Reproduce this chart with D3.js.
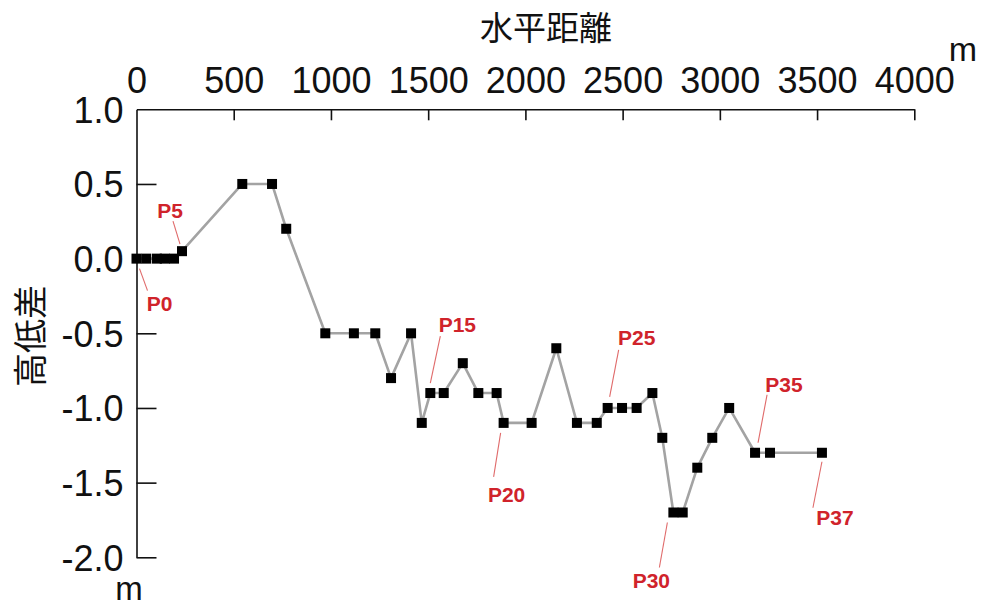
<!DOCTYPE html>
<html>
<head>
<meta charset="utf-8">
<script src="https://cdn.jsdelivr.net/npm/d3@7"></script>
<style>
  html, body { margin: 0; padding: 0; background: #ffffff; }
  svg { display: block; }
  .tick text { font-family: "Liberation Sans", Arial, sans-serif; }
</style>
</head>
<body>
<svg id="chart" width="982" height="608"></svg>
<script>
// ---- data ----
const pointNames = d3.range(38).map(i => "P" + i);
const distance = [0, 50, 105, 145, 193, 234, 544, 697, 770, 971, 1118, 1228, 1309, 1412, 1467, 1511, 1580, 1678, 1758, 1852, 1888,
                  2032, 2159, 2265, 2367, 2423, 2497, 2572, 2653, 2704, 2761, 2809, 2884, 2961, 3048, 3181, 3258, 3525];
const heightDiff = [0, 0, 0, 0, 0, 0.05, 0.5, 0.5, 0.2, -0.5, -0.5, -0.5, -0.8, -0.5, -1.1, -0.9, -0.9, -0.7, -0.9, -0.9, -1.1,
                    -1.1, -0.6, -1.1, -1.1, -1.0, -1.0, -1.0, -0.9, -1.2, -1.7, -1.7, -1.4, -1.2, -1.0, -1.3, -1.3, -1.3];
const xTicks = [0, 500, 1000, 1500, 2000, 2500, 3000, 3500, 4000];
const yTicks = [1.0, 0.5, 0.0, -0.5, -1.0, -1.5, -2.0];
const labelledPoints = [0, 5, 15, 20, 25, 30, 35, 37];
const xTitle = "水平距離";
const yTitle = "高低差";
const unitLabel = "m";

// label placement (pixel offsets from the marker): leader start, leader end, text anchor
const labelLayout = {
  0:  { s: [3, 10],   e: [11, 32],  t: [23, 52] },
  5:  { s: [-2, -7],  e: [-9, -30], t: [-12, -33] },
  15: { s: [0, -10],  e: [10, -57], t: [27, -61] },
  20: { s: [-3, 10],  e: [-10, 54], t: [3, 79] },
  25: { s: [2, -11],  e: [11, -58], t: [29, -63] },
  30: { s: [-6, 10],  e: [-14, 55], t: [-22, 75] },
  35: { s: [3, -10],  e: [12, -58], t: [29, -61] },
  37: { s: [0, 9],    e: [-9, 55],  t: [13, 72] }
};

const data = distance.map((d, i) => ({ name: pointNames[i], x: d, y: heightDiff[i], i }));

// ---- layout ----
const svg = d3.select("#chart");
const x = d3.scaleLinear().domain([0, 4000]).range([136.5, 914.3]);
const y = d3.scaleLinear().domain([-2, 1]).range([557.3, 109.3]);
const fontLatin = '"Liberation Sans", Arial, sans-serif';
const fontCJK = '"Noto Sans CJK JP", "Noto Sans CJK TC", sans-serif';

// top x axis
const xAxis = svg.append("g")
  .attr("transform", `translate(0,${y(1)})`)
  .call(d3.axisTop(x).tickValues(xTicks).tickFormat(d => String(d))
        .tickSizeInner(-11).tickSizeOuter(0).tickPadding(16));
xAxis.select(".domain").attr("stroke", "#111").attr("stroke-width", 1.6);
xAxis.selectAll(".tick line").attr("stroke", "#111").attr("stroke-width", 1.6)
  .filter(d => d === 0).remove();
xAxis.selectAll(".tick text").attr("font-size", 36).attr("fill", "#111")
  .attr("font-family", fontLatin).attr("dy", "0");

// left y axis
const yAxis = svg.append("g")
  .attr("transform", `translate(${x(0)},0)`)
  .call(d3.axisLeft(y).tickValues(yTicks).tickFormat(d => d.toFixed(1))
        .tickSizeInner(-20).tickSizeOuter(0).tickPadding(13));
yAxis.select(".domain").attr("stroke", "#111").attr("stroke-width", 1.6);
yAxis.selectAll(".tick line").attr("stroke", "#111").attr("stroke-width", 1.6)
  .filter(d => d === 1).remove();
yAxis.selectAll(".tick text").attr("font-size", 36).attr("fill", "#111")
  .attr("font-family", fontLatin).attr("dy", "0.36em");

// titles
svg.append("text").attr("x", 546).attr("y", 40).attr("text-anchor", "middle")
  .attr("font-family", fontCJK).attr("font-size", 33).attr("fill", "#111").text(xTitle);
svg.append("text").attr("transform", "translate(43,336) rotate(-90)").attr("text-anchor", "middle")
  .attr("font-family", fontCJK).attr("font-size", 34).attr("fill", "#111").text(yTitle);
svg.append("text").attr("x", 963).attr("y", 61).attr("text-anchor", "middle")
  .attr("font-family", fontLatin).attr("font-size", 34).attr("fill", "#111").text(unitLabel);
svg.append("text").attr("x", 129).attr("y", 600).attr("text-anchor", "middle")
  .attr("font-family", fontLatin).attr("font-size", 33).attr("fill", "#111").text(unitLabel);

// profile line
svg.append("path").datum(data)
  .attr("fill", "none").attr("stroke", "#a3a3a3").attr("stroke-width", 2.6)
  .attr("stroke-linejoin", "round")
  .attr("d", d3.line().x(d => x(d.x)).y(d => y(d.y)));

// markers
const sz = 10;
svg.append("g").selectAll("rect").data(data).join("rect")
  .attr("x", d => x(d.x) - sz / 2).attr("y", d => y(d.y) - sz / 2)
  .attr("width", sz).attr("height", sz).attr("fill", "#000");

// point labels with leader lines
const lab = svg.append("g");
labelledPoints.forEach(i => {
  const d = data[i], L = labelLayout[i];
  const px = x(d.x), py = y(d.y);
  lab.append("line")
    .attr("x1", px + L.s[0]).attr("y1", py + L.s[1])
    .attr("x2", px + L.e[0]).attr("y2", py + L.e[1])
    .attr("stroke", "#e06a6a").attr("stroke-width", 1.1);
  lab.append("text")
    .attr("x", px + L.t[0]).attr("y", py + L.t[1])
    .attr("text-anchor", "middle").attr("font-family", fontLatin)
    .attr("font-size", 21).attr("font-weight", "bold").attr("fill", "#d0232b")
    .text(d.name);
});
</script>
</body>
</html>
